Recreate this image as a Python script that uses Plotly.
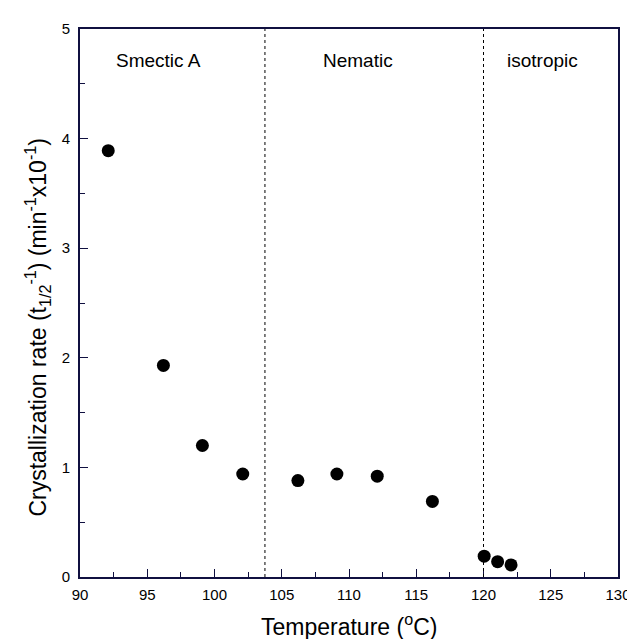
import plotly.graph_objects as go

temperature = [92.1, 96.2, 99.1, 102.1, 106.2, 109.1, 112.1, 116.2, 120.05, 121.05, 122.05]
rate = [3.89, 1.93, 1.20, 0.94, 0.88, 0.94, 0.92, 0.69, 0.19, 0.14, 0.11]

phase_boundaries = [103.75, 120.0]
phase_labels = ["Smectic A", "Nematic", "isotropic"]
phase_label_x = [95.8, 110.7, 124.4]
phase_label_y = 4.71

x_major = [90, 95, 100, 105, 110, 115, 120, 125, 130]
y_major = [0, 1, 2, 3, 4, 5]

FONT = "Arial, Liberation Sans, Helvetica, sans-serif"
INK = "#101040"

fig = go.Figure()
fig.add_trace(go.Scatter(
    x=temperature, y=rate, mode="markers",
    marker=dict(size=13, color="black"),
    showlegend=False, cliponaxis=False,
))

for xb in phase_boundaries:
    fig.add_shape(type="line", x0=xb, x1=xb, y0=0, y1=5, xref="x", yref="y",
                  line=dict(color="black", width=1, dash="dot"))

for lab, lx in zip(phase_labels, phase_label_x):
    fig.add_annotation(x=lx, y=phase_label_y, text=lab, showarrow=False,
                       font=dict(family=FONT, size=19, color="black"))

fig.add_annotation(
    text="Crystallization rate (t<sub>1/2</sub><sup>-1</sup>) (min<sup>-1</sup>x10<sup>-1</sup>)",
    xref="paper", yref="paper", x=-0.08, y=0.455, textangle=-90,
    xanchor="center", yanchor="middle", showarrow=False,
    font=dict(family=FONT, size=23, color="black"),
)
fig.add_annotation(
    text="Temperature (<sup>o</sup>C)",
    xref="paper", yref="paper", x=0.5, y=-0.088,
    xanchor="center", yanchor="middle", showarrow=False,
    font=dict(family=FONT, size=23, color="black"),
)

fig.update_xaxes(
    range=[90, 130], tickmode="array", tickvals=x_major, ticktext=[str(v) for v in x_major],
    ticks="inside", ticklen=8, tickwidth=1.3, tickcolor=INK,
    minor=dict(ticks="inside", ticklen=5, tickwidth=1.3, tickcolor=INK, dtick=2.5, showgrid=False),
    showline=True, linecolor=INK, linewidth=2, mirror=True,
    showgrid=False, zeroline=False, ticklabelstandoff=3,
    tickfont=dict(family=FONT, size=15, color="black"),
)
fig.update_yaxes(
    range=[0, 5], tickmode="array", tickvals=y_major, ticktext=[str(v) for v in y_major],
    ticks="inside", ticklen=8, tickwidth=1.3, tickcolor=INK,
    minor=dict(ticks="inside", ticklen=5, tickwidth=1.3, tickcolor=INK, dtick=0.5, showgrid=False),
    showline=True, linecolor=INK, linewidth=2, mirror=True,
    showgrid=False, zeroline=False, ticklabelstandoff=5,
    tickfont=dict(family=FONT, size=15, color="black"),
)

fig.update_layout(
    width=635, height=639,
    margin=dict(l=72, r=14, t=20, b=70),
    plot_bgcolor="white", paper_bgcolor="white",
    font=dict(family=FONT, color="black"),
)

fig.write_html("out.html")
